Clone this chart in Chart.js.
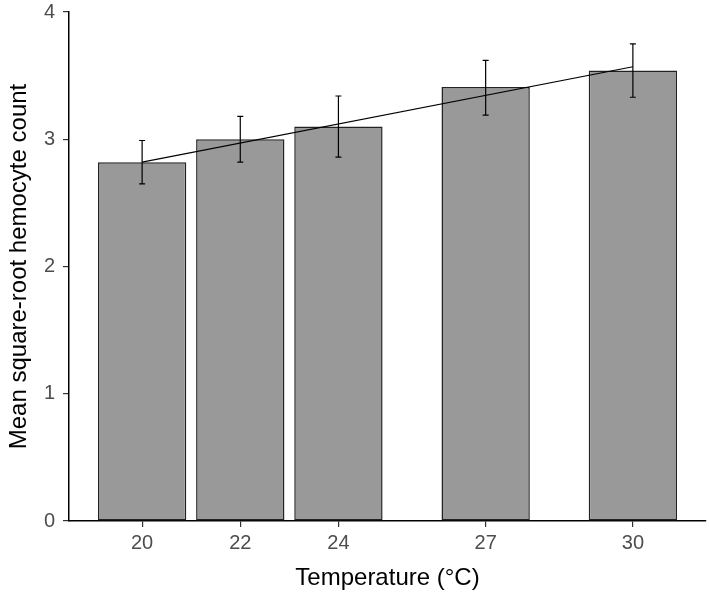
<!DOCTYPE html>
<html>
<head>
<meta charset="utf-8">
<script src="https://cdn.jsdelivr.net/npm/chart.js@4/dist/chart.umd.min.js"></script>
<style>
  html, body { margin: 0; padding: 0; background: #fff; }
  #wrap { width: 709px; height: 593px; }
</style>
</head>
<body>
<div id="wrap"><canvas id="c" width="709" height="593"></canvas></div>
<script>
// Data
const temperatures = [20, 22, 24, 27, 30];
const meanCounts   = [2.82, 3.00, 3.10, 3.41, 3.54];
const errLower     = [2.65, 2.82, 2.86, 3.19, 3.33];
const errUpper     = [2.99, 3.18, 3.34, 3.62, 3.75];
const fitX         = [20, 30];
const fitY         = [2.82, 3.57];
const xTickValues  = [20, 22, 24, 27, 30];
const yTickValues  = [0, 1, 2, 3, 4];

const errorBarPlugin = {
  id: 'errorBars',
  afterDatasetsDraw(chart) {
    const ctx = chart.ctx;
    const xs = chart.scales.x, ys = chart.scales.y;
    ctx.save();
    ctx.strokeStyle = '#000';
    ctx.lineWidth = 1.2;
    temperatures.forEach((t, i) => {
      const px = xs.getPixelForValue(t);
      const pLo = ys.getPixelForValue(errLower[i]);
      const pHi = ys.getPixelForValue(errUpper[i]);
      ctx.beginPath();
      ctx.moveTo(px, pLo); ctx.lineTo(px, pHi);
      ctx.moveTo(px - 3, pLo); ctx.lineTo(px + 3, pLo);
      ctx.moveTo(px - 3, pHi); ctx.lineTo(px + 3, pHi);
      ctx.stroke();
    });
    ctx.restore();
  }
};

const fontFamily = '"Liberation Sans", Arial, sans-serif';

new Chart(document.getElementById('c'), {
  type: 'bar',
  data: {
    datasets: [
      {
        type: 'bar',
        data: temperatures.map((t, i) => ({ x: t, y: meanCounts[i] })),
        backgroundColor: '#999999',
        borderColor: '#222222',
        borderWidth: 1.5,
        borderSkipped: false,
        categoryPercentage: 1.0,
        barPercentage: 0.9,
        order: 2
      },
      {
        type: 'line',
        data: fitX.map((x, i) => ({ x: x, y: fitY[i] })),
        borderColor: '#000',
        borderWidth: 1.2,
        pointRadius: 0,
        fill: false,
        order: 1
      }
    ]
  },
  options: {
    responsive: false,
    animation: false,
    layout: { padding: { top: 12, right: 3, left: 0, bottom: 0 } },
    plugins: { legend: { display: false }, tooltip: { enabled: false } },
    scales: {
      x: {
        type: 'linear',
        min: 18.51,
        max: 31.49,
        offset: false,
        afterBuildTicks: (axis) => { axis.ticks = xTickValues.map(v => ({ value: v })); },
        afterFit: (s) => { s.height = 72; },
        ticks: {
          autoSkip: false,
          maxRotation: 0,
          color: '#4D4D4D',
          font: { family: fontFamily, size: 20 },
          padding: 4
        },
        grid: { display: true, offset: false, drawOnChartArea: false, drawTicks: true, tickLength: 6, color: '#333333', lineWidth: 1.2 },
        border: { display: true, color: '#000', width: 1.5 },
        title: {
          display: true,
          text: 'Temperature (°C)',
          color: '#000',
          font: { family: fontFamily, size: 24 },
          padding: { top: 0, bottom: 0 }
        }
      },
      y: {
        type: 'linear',
        min: 0,
        max: 4,
        afterBuildTicks: (axis) => { axis.ticks = yTickValues.map(v => ({ value: v })); },
        afterFit: (s) => { s.width = 69; s.paddingTop = 0; s.paddingBottom = 0; },
        ticks: {
          color: '#4D4D4D',
          font: { family: fontFamily, size: 20 },
          padding: 8
        },
        grid: { display: true, drawOnChartArea: false, drawTicks: true, tickLength: 6, color: '#333333', lineWidth: 1.2 },
        border: { display: true, color: '#000', width: 1.5 },
        title: {
          display: true,
          text: 'Mean square-root hemocyte count',
          color: '#000',
          font: { family: fontFamily, size: 24 },
          padding: { top: 5, bottom: 0 }
        }
      }
    }
  },
  plugins: [errorBarPlugin]
});
</script>
</body>
</html>
